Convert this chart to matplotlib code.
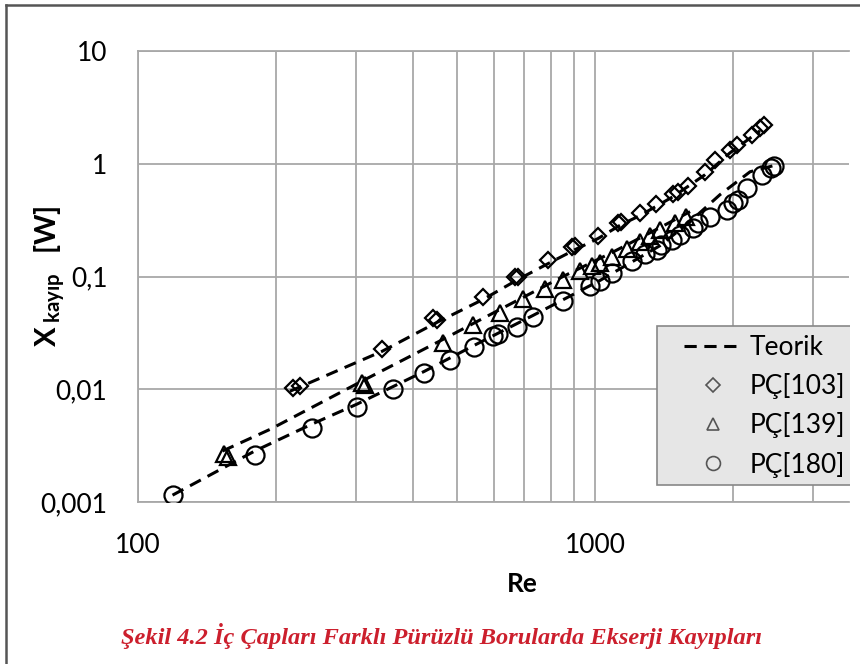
import matplotlib
matplotlib.use("Agg")
import matplotlib.pyplot as plt
from matplotlib.lines import Line2D
from matplotlib.patches import Rectangle

plt.rcParams['font.family'] = ['Lato', 'DejaVu Sans']
plt.rcParams['mathtext.fontset'] = 'custom'
plt.rcParams['mathtext.rm'] = 'Lato'
plt.rcParams['mathtext.bf'] = 'Lato:bold'

# PÇ[103]  (diamonds)
re_103 = [218, 226, 342, 442, 451, 569, 668, 679, 789, 891, 904, 1015, 1123, 1140,
          1254, 1360, 1482, 1519, 1598, 1741, 1831, 1974, 2045, 2206, 2296, 2343]
x_103 = [0.0102, 0.0106, 0.0226, 0.0425, 0.0408, 0.0652, 0.098, 0.100, 0.139, 0.181,
         0.188, 0.231, 0.301, 0.307, 0.368, 0.443, 0.543, 0.565, 0.638, 0.849, 1.08,
         1.33, 1.47, 1.81, 2.08, 2.21]

# PÇ[139]  (triangles)
re_139 = [154, 157, 309, 314, 465, 541, 620, 696, 777, 851, 927, 985, 1025, 1089,
          1175, 1254, 1319, 1388, 1496, 1582]
x_139 = [0.00266, 0.00250, 0.0113, 0.0108, 0.0255, 0.0368, 0.0471, 0.0626, 0.0767,
         0.094, 0.111, 0.125, 0.133, 0.150, 0.177, 0.204, 0.231, 0.261, 0.301, 0.340]

# PÇ[180]  (circles)
re_180 = [119, 180, 240, 301, 361, 423, 482, 544, 598, 613, 675, 732, 851, 975, 1025,
          1089, 1205, 1287, 1367, 1394, 1474, 1535, 1639, 1681, 1785, 1945, 2004, 2055,
          2151, 2320, 2428, 2465]
x_180 = [0.00115, 0.00261, 0.00452, 0.00693, 0.0100, 0.0139, 0.0181, 0.0235, 0.0294,
         0.0307, 0.0354, 0.0434, 0.0601, 0.0816, 0.0904, 0.108, 0.136, 0.157, 0.173,
         0.192, 0.212, 0.235, 0.272, 0.301, 0.340, 0.392, 0.452, 0.480, 0.614, 0.80,
         0.92, 0.96]

# Teorik curves
re_t103 = [215, 342, 451, 569, 678, 789, 904, 1015, 1140, 1254, 1482, 1741, 1974, 2296]
x_t103 = [0.0096, 0.0217, 0.0392, 0.0626, 0.094, 0.130, 0.173, 0.217, 0.288, 0.347,
          0.511, 0.80, 1.25, 1.96]
re_t139 = [153, 195, 309, 465, 620, 851, 1089, 1388, 1614]
x_t139 = [0.00283, 0.00443, 0.0118, 0.0277, 0.0511, 0.100, 0.163, 0.272, 0.376]
re_t180 = [119, 180, 240, 301, 423, 544, 732, 1025, 1388, 1614, 1877, 2184, 2453]
x_t180 = [0.00115, 0.00283, 0.0049, 0.00736, 0.0144, 0.0245, 0.0452, 0.0922, 0.188,
          0.307, 0.532, 0.849, 0.96]

fig = plt.figure(figsize=(8.6, 6.64), dpi=100)
ax = fig.add_axes([138/860, 1-502/664, 711/860, 451/664])

dash = (0, (4, 2.5))
for r, v in [(re_t103, x_t103), (re_t139, x_t139), (re_t180, x_t180)]:
    ax.plot(r, v, color='black', lw=2.2, ls=dash, zorder=3)

ax.plot(re_103, x_103, ls='none', marker='D', ms=8.5, mfc='none', mec='black', mew=1.6, zorder=4)
ax.plot(re_139, x_139, ls='none', marker='^', ms=12, mfc='none', mec='black', mew=1.6, zorder=4)
ax.plot(re_180, x_180, ls='none', marker='o', ms=13, mfc='none', mec='black', mew=1.6, zorder=4)

ax.set_xscale('log')
ax.set_yscale('log')
ax.set_xlim(100, 3595)
ax.set_ylim(0.001, 10)

grid_c = '#a8a8a8'
ax.set_xticks([100, 1000])
ax.set_xticklabels(['100', '1000'])
ax.set_xticks([200, 300, 400, 500, 600, 700, 800, 900, 2000, 3000], minor=True)
ax.set_yticks([0.001, 0.01, 0.1, 1, 10])
ax.set_yticklabels(['0,001', '0,01', '0,1', '1', '10'])
ax.set_yticks([], minor=True)
ax.tick_params(which='both', length=0, labelsize=19, colors='black')
ax.tick_params(axis='x', pad=22)
ax.tick_params(axis='y', pad=22)
ax.grid(True, which='major', color=grid_c, lw=1.3)
ax.grid(True, which='minor', axis='x', color=grid_c, lw=1.3)
for s in ['left', 'bottom', 'top']:
    ax.spines[s].set_color(grid_c)
    ax.spines[s].set_linewidth(1.3)
ax.spines['right'].set_visible(False)
ax.set_axisbelow(True)

ax.set_xlabel('Re', fontsize=19, fontweight='bold')
ax.xaxis.set_label_coords((522-138)/711, -0.155)
ax.set_ylabel(r'$\mathbf{X}\,_{\mathbf{kayıp}}\ \ \mathbf{[W]}$', fontsize=21)
ax.yaxis.set_label_coords(-0.098, 0.5)

# legend box (cropped on the right like the original)
ax.add_patch(Rectangle((657/860, 1-485/664), 203/860, 159/664, transform=fig.transFigure,
                       facecolor='#e6e6e6', edgecolor='#888888', lw=1.2, zorder=9,
                       clip_on=False))
handles = [
    Line2D([], [], color='black', lw=2.2, ls=dash),
    Line2D([], [], ls='none', marker='D', ms=7, mfc='none', mec='#555555', mew=1.2),
    Line2D([], [], ls='none', marker='^', ms=9, mfc='none', mec='#555555', mew=1.2),
    Line2D([], [], ls='none', marker='o', ms=10, mfc='none', mec='#555555', mew=1.2),
]
leg = ax.legend(handles, ['Teorik', 'PÇ[103]', 'PÇ[139]', 'PÇ[180]'],
                loc='upper left', bbox_to_anchor=(684/860, 1-335/664),
                bbox_transform=fig.transFigure, borderaxespad=0, borderpad=0, fontsize=19,
                handlelength=2.2, handletextpad=0.3, labelspacing=0.5, frameon=False)
leg.set_zorder(10)

# white strip at the right, where the original was cropped
fig.add_artist(Rectangle((850/860, 0), 10/860, 1, transform=fig.transFigure,
                         facecolor='white', edgecolor='none', zorder=20))

# page frame (top and left)
fig.add_artist(Line2D([6/860, 1], [1-5/664, 1-5/664], transform=fig.transFigure,
                      color='#555555', lw=1.8, zorder=21))
fig.add_artist(Line2D([6/860, 6/860], [0, 1-5/664], transform=fig.transFigure,
                      color='#555555', lw=1.8, zorder=21))

fig.text(442/860, 1-636/664, 'Şekil 4.2 İç Çapları Farklı Pürüzlü Borularda Ekserji Kayıpları',
         family='Liberation Serif', style='italic', weight='bold', fontsize=17.6,
         color='#cc1f2d', ha='center', va='center')

fig.savefig('out.png', dpi=100)
